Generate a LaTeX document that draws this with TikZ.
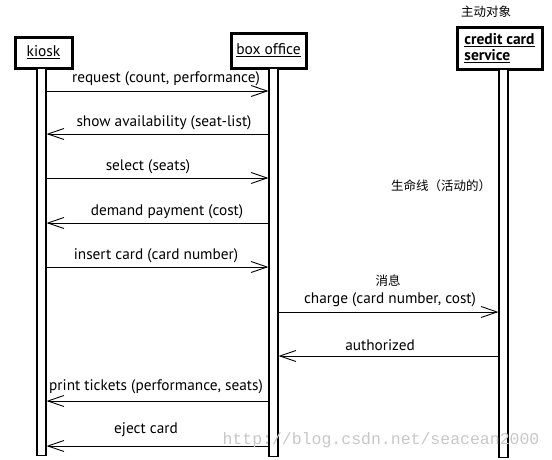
\documentclass[tikz,border=0pt]{standalone}
\usepackage{fontspec}
\setmainfont{PT Sans}
\newfontfamily\cjk{Noto Sans CJK SC}
\newfontfamily\wmfont{Liberation Mono}
\usetikzlibrary{arrows.meta}
\begin{document}
\begin{tikzpicture}[x=1pt,y=-1pt,
  obj/.style={draw,line width=3pt,inner sep=0pt,font=\fontsize{15.5}{16}\selectfont},
  bar/.style={draw,line width=1.1pt,fill=white,minimum width=9pt,inner sep=0pt},
  msg/.style={line width=0.9pt,-{Straight Barb[length=16pt,width=11pt,line width=0.9pt]}},
  lbl/.style={font=\fontsize{15.3}{16}\selectfont,inner sep=0pt},
  note/.style={font=\cjk\fontsize{12.5}{14}\selectfont,inner sep=0pt}]
\useasboundingbox (0,0) rectangle (552,459);
% objects
\node[obj,minimum width=57pt,minimum height=31pt] (kiosk) at (43.5,52.5) {\underline{kiosk}};
\node[obj,minimum width=75pt,minimum height=35pt] (box) at (268.5,50.5) {\underline{box office}};
\node[obj,minimum width=85pt,minimum height=42pt,align=left,font=\fontsize{15.5}{15.5}\selectfont\bfseries] (ccs) at (499.5,48) {\underline{credit card}\\\underline{service}};
% lifelines / activation bars
\node[bar,minimum height=387pt,anchor=north] (kbar) at (41.5,68) {};
\node[bar,minimum height=388pt,anchor=north] (bbar) at (273.5,68) {};
\node[bar,minimum height=388pt,anchor=north] (cbar) at (503.5,69) {};
% messages
\draw[msg] (kbar.east |- 0,91) -- (bbar.west |- 0,91);
\node[lbl] (t1) at (166,79) {request (count, performance)};
\draw[msg] (bbar.west |- 0,134) -- (kbar.east |- 0,134);
\node[lbl] (t2) at (164,123) {show availability (seat-list)};
\draw[msg] (kbar.east |- 0,178) -- (bbar.west |- 0,178);
\node[lbl] (t3) at (148,167) {select (seats)};
\draw[msg] (bbar.west |- 0,223) -- (kbar.east |- 0,223);
\node[lbl] (t4) at (167,212) {demand payment (cost)};
\draw[msg] (kbar.east |- 0,267) -- (bbar.west |- 0,267);
\node[lbl] (t5) at (156,256) {insert card (card number)};
\draw[msg] (bbar.east |- 0,312) -- (cbar.west |- 0,312);
\node[lbl] (t6) at (390,299.5) {charge (card number, cost)};
\draw[msg] (cbar.west |- 0,356) -- (bbar.east |- 0,356);
\node[lbl] (t7) at (380,345) {authorized};
\draw[msg] (bbar.west |- 0,401) -- (kbar.east |- 0,401);
\node[lbl] (t8) at (156,387) {print tickets (performance, seats)};
\draw[msg] (bbar.west |- 0,446) -- (kbar.east |- 0,446);
\node[lbl] (t9) at (146,430) {eject card};
% annotations
\node[note] (n1) at (486,12) {主动对象};
\node[note] (n2) at (441,186) {生命线（活动的）};
\node[note] (n3) at (388,281) {消息};
% watermark
\node[font=\wmfont\fontsize{16.5}{18}\selectfont,text=black!22,inner sep=0pt] (wm) at (381,440) {http://blog.csdn.net/seacean2000};
\end{tikzpicture}
\end{document}
